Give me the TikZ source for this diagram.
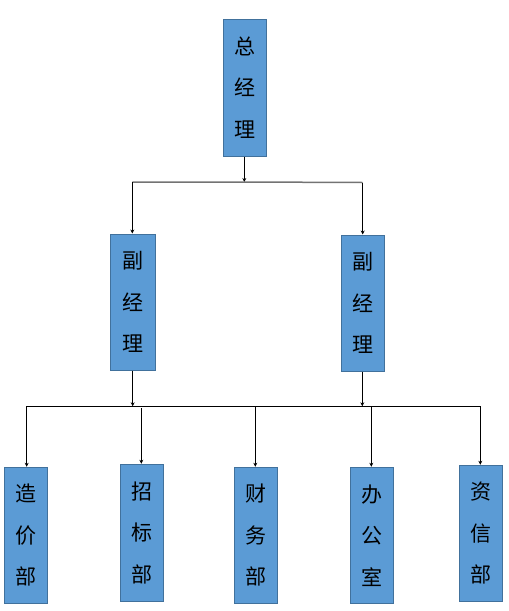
\documentclass[tikz,border=0pt]{standalone}
\usepackage{fontspec}
\newfontfamily\cjk{Noto Sans CJK SC}
\usetikzlibrary{arrows.meta}
\definecolor{boxfill}{HTML}{5B9BD5}
\definecolor{boxline}{HTML}{41719C}
\tikzset{
  orgbox/.style={rectangle, fill=boxfill, draw=boxline, line width=1pt,
    minimum width=43.5pt, inner sep=0pt, align=center,
    font=\cjk\fontsize{21}{41.5}\selectfont},
  conn/.style={line width=0.9pt, black},
  arr/.style={conn, -{Stealth[length=4pt,width=4pt]}}
}
\begin{document}
\begin{tikzpicture}[x=1pt,y=-1pt]
\useasboundingbox (0,0) rectangle (509,611);
\node[orgbox, minimum height=137pt] (top) at (245,87.5) {总\\经\\理};
\node[orgbox, minimum width=45pt, minimum height=136pt] (ml) at (132.5,302) {副\\经\\理};
\node[orgbox, minimum height=136pt] (mr) at (363,303) {副\\经\\理};
\node[orgbox, minimum height=136pt] (b1) at (26,535.3) {造\\价\\部};
\node[orgbox, minimum height=137pt] (b2) at (142,532.8) {招\\标\\部};
\node[orgbox, minimum height=136pt] (b3) at (255.8,535.3) {财\\务\\部};
\node[orgbox, minimum width=42.6pt, minimum height=136pt] (b4) at (372,535.3) {办\\公\\室};
\node[orgbox, minimum height=136pt] (b5) at (481,533.3) {资\\信\\部};
% top level
\coordinate (j0) at (244.3,182);
\coordinate (jl) at (132.3,182);
\coordinate (jr) at (362.7,182.5);
\draw[arr] (top.south -| j0) -- (j0);
\draw[line width=1.5pt, gray!90!black] (jl) -- (j0) -- (jr);
\draw[arr] (jl) -- (jl |- ml.north);
\draw[arr] (jr) -- (jr |- mr.north);
% bottom level
\coordinate (k1) at (26.7,406.3);
\coordinate (k5) at (480.3,406.3);
\coordinate (kl) at (132.7,406.3);
\coordinate (kr) at (362.3,406.3);
\draw[conn] (k1) -- (k5);
\draw[arr] (ml.south -| kl) -- (kl);
\draw[arr] (mr.south -| kr) -- (kr);
\coordinate (k2) at (141.3,408.3);
\coordinate (k3) at (255.3,406.3);
\coordinate (k4) at (371.3,406.3);
\draw[arr] (k1) -- (k1 |- b1.north);
\draw[arr] (k2) -- (k2 |- b2.north);
\draw[arr] (k3) -- (k3 |- b3.north);
\draw[arr] (k4) -- (k4 |- b4.north);
\draw[arr] (k5) -- (k5 |- b5.north);
\end{tikzpicture}
\end{document}
